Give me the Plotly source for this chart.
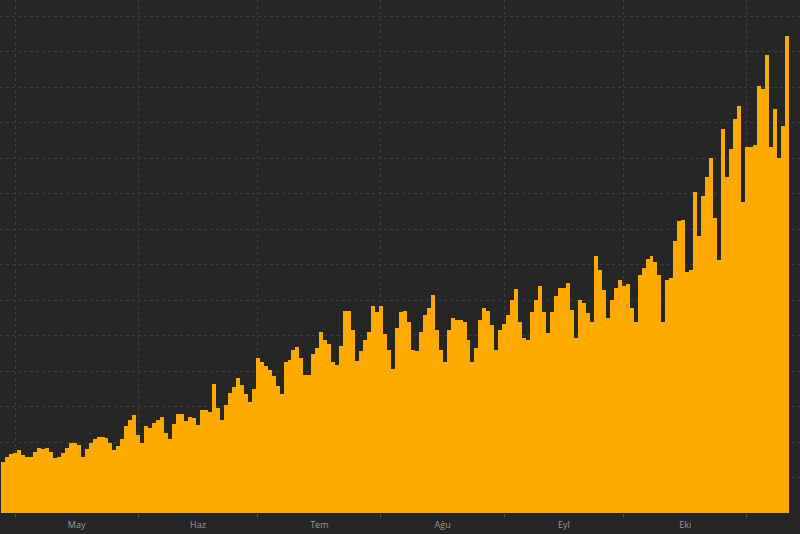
import pandas as pd
import plotly.graph_objects as go

# Daily values (arbitrary units), starting 2020-04-28
start_date = "2020-04-28"
values = [
    1440, 1580, 1660, 1690, 1770, 1630, 1580, 1580, 1720, 1830,
    1810, 1840, 1720, 1550, 1580, 1690, 1830, 1970, 1960, 1920,
    1580, 1800, 1970, 2080, 2140, 2140, 2110, 1970, 1770, 1890,
    2080, 2450, 2620, 2760, 2200, 1970, 2450, 2390, 2540, 2620,
    2700, 2250, 2080, 2510, 2790, 2780, 2590, 2700, 2680, 2480,
    2900, 2900, 2850, 3630, 2960, 2620, 3040, 3380, 3550, 3800,
    3610, 3350, 3130, 3490, 4370, 4250, 4140, 4030, 3860, 3580,
    3350, 4250, 4310, 4590, 4680, 4370, 3890, 3890, 4480, 4650,
    5100, 4870, 4760, 4250, 4170, 4700, 5690, 5690, 5160, 4280,
    4560, 4870, 5100, 5830, 5660, 5830, 5040, 4590, 4060, 5210,
    5660, 5690, 5380, 4590, 4560, 5100, 5580, 5770, 6140, 5160,
    4590, 4250, 5160, 5490, 5430, 5440, 5380, 4870, 4250, 4650,
    5440, 5770, 5690, 5300, 4590, 5160, 5320, 5580, 6000, 6310,
    5380, 4930, 4870, 5660, 6000, 6390, 5660, 5070, 5660, 6110,
    6340, 6340, 6480, 5720, 4930, 6000, 5920, 5630, 5380, 7240,
    6850, 6280, 5490, 6000, 6340, 6560, 6390, 6450, 5770, 5380,
    6700, 6900, 7160, 7240, 7070, 6700, 5380, 6560, 6620, 7660,
    8230, 8250, 6790, 6850, 9040, 7800, 8930, 9470, 10000, 8310,
    7130, 10820, 9470, 10250, 11100, 11470, 8760, 10310, 10310, 10370,
    12030, 11940, 12900, 10310, 11380, 10000, 10900, 13440,
]
dates = pd.date_range(start_date, periods=len(values), freq="D")

month_starts = ["2020-05-01", "2020-06-01", "2020-07-01", "2020-08-01",
                "2020-09-01", "2020-10-01", "2020-11-01"]
month_labels = ["May", "Haz", "Tem", "Ağu", "Eyl", "Eki"]

ms = pd.to_datetime(month_starts)
mid_months = [ms[i] + (ms[i + 1] - ms[i]) / 2 for i in range(len(month_labels))]

bg = "#262626"
bar_color = "#FFAA00"
grid_color = "#3c3c3c"

fig = go.Figure(
    go.Bar(
        x=dates,
        y=values,
        marker=dict(color=bar_color, line=dict(width=0)),
        hoverinfo="x+y",
    )
)

fig.update_layout(
    width=800,
    height=534,
    template="none",
    paper_bgcolor=bg,
    plot_bgcolor=bg,
    margin=dict(l=0, r=0, t=0, b=21, pad=0),
    bargap=0,
    showlegend=False,
    font=dict(family="Open Sans, Roboto, sans-serif", size=9, color="#9a9a9a"),
)

fig.update_xaxes(
    type="date",
    range=["2020-04-27 05:30", "2020-11-14 08:00"],
    tickmode="array",
    tickvals=mid_months,
    ticktext=month_labels,
    ticks="outside",
    ticklen=3,
    tickcolor="rgba(0,0,0,0)",
    showgrid=False,
    zeroline=False,
    showline=False,
    tickfont=dict(size=9, color="#9a9a9a"),
    minor=dict(
        tickmode="array",
        tickvals=list(ms),
        ticks="outside",
        ticklen=3,
        tickcolor="#5a5a5a",
        showgrid=True,
        gridcolor=grid_color,
        griddash="dot",
        gridwidth=1,
    ),
)

fig.update_yaxes(
    range=[0, 14451],
    tick0=0,
    dtick=1000,
    showticklabels=False,
    ticks="",
    showgrid=True,
    gridcolor=grid_color,
    griddash="dot",
    gridwidth=1,
    zeroline=False,
    showline=False,
)

fig.write_html(
    "out.html",
    config={"displayModeBar": False},
    post_script="document.body.style.margin='0';document.body.style.padding='0';",
)
